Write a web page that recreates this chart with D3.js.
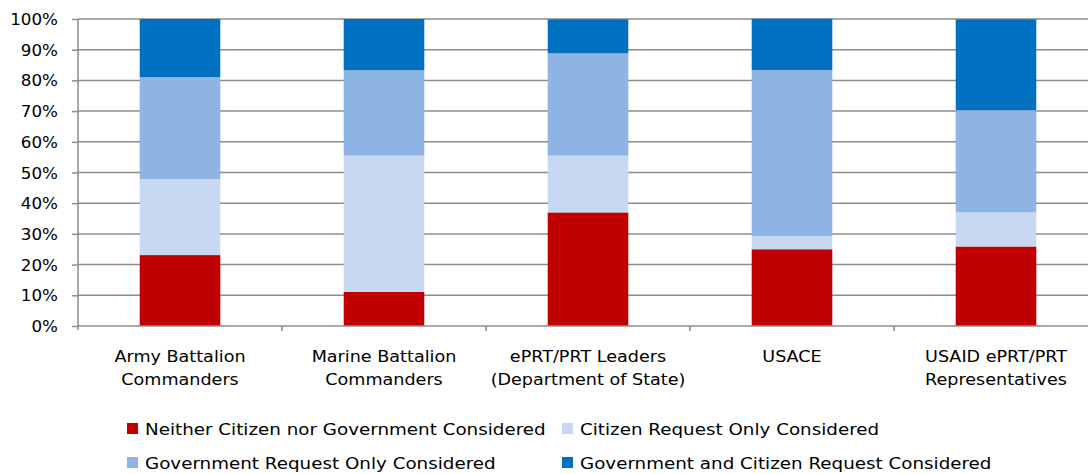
<!DOCTYPE html>
<html><head><meta charset="utf-8">
<script src="https://cdn.jsdelivr.net/npm/d3@7"></script>
<style>body{margin:0;background:#fff;} svg{display:block;} text{font-family:"DejaVu Sans",sans-serif;fill:#000;}</style>
</head><body><svg id="c" width="1088" height="474"></svg>
<script>
const categories = [["Army Battalion","Commanders"],["Marine Battalion","Commanders"],["ePRT/PRT Leaders","(Department of State)"],["USACE"],["USAID ePRT/PRT","Representatives"]];
const seriesNames = ["Neither Citizen nor Government Considered","Citizen Request Only Considered","Government Request Only Considered","Government and Citizen Request Considered"];
const neither = [23.1, 11.1, 37.0, 25.0, 25.9];
const citizenOnly = [24.7, 44.4, 18.5, 4.2, 11.1];
const govOnly = [33.3, 27.8, 33.3, 54.2, 33.3];
const both = [18.9, 16.7, 11.1, 16.7, 29.6];
const yTicks = [0,10,20,30,40,50,60,70,80,90,100];
const colors = ["#C00000","#C6D9F1","#8EB4E3","#0070C0"];

(function(){
const svg = d3.select("#c");
const pL = 78, pR = 1098, pT = 19, pB = 326;
const sx = 1.1, fs = 16;
const x = d3.scaleBand().domain(d3.range(categories.length)).range([pL, pR]).paddingInner(0.605).paddingOuter(0.3025);
const y = d3.scaleLinear().domain([0,100]).range([pB, pT]);

const rows = categories.map((c,i)=>({i, s0:neither[i], s1:citizenOnly[i], s2:govOnly[i], s3:both[i]}));
const stack = d3.stack().keys(["s0","s1","s2","s3"])(rows);

// gridlines
svg.append("g").selectAll("line").data(yTicks.filter(d=>d>0)).join("line")
  .attr("x1", pL).attr("x2", pR).attr("y1", d=>y(d)).attr("y2", d=>y(d))
  .attr("stroke", "#8c8c8c").attr("stroke-width", 1.5);

// bars
svg.append("g").selectAll("g").data(stack).join("g").attr("fill", (d,k)=>colors[k])
  .selectAll("rect").data(d=>d).join("rect")
  .attr("x", d=>x(d.data.i)).attr("width", x.bandwidth())
  .attr("y", d=>y(d[1])).attr("height", d=>y(d[0])-y(d[1]));

// y axis
const yAxis = svg.append("g").attr("transform", `translate(${pL},0)`)
  .call(d3.axisLeft(y).tickValues(yTicks).tickFormat(d=>d+"%").tickSize(6).tickPadding(14));
yAxis.select(".domain").attr("stroke","#8c8c8c").attr("stroke-width",1.5).attr("d", `M0,${pT}V${pB+4}`);
yAxis.selectAll(".tick line").attr("stroke","#8c8c8c").attr("stroke-width",1.5);
yAxis.selectAll(".tick text").attr("font-size", 15.5).attr("font-family","DejaVu Sans").attr("fill","#000")
  .attr("dy","0.36em").attr("x",0).attr("transform",`translate(-20,0) scale(1.08,1)`);

// x axis baseline
svg.append("line").attr("x1", pL).attr("x2", pR).attr("y1", pB).attr("y2", pB)
  .attr("stroke","#8c8c8c").attr("stroke-width",1.5);
// category boundary ticks
const step = x.step();
svg.append("g").selectAll("line").data(d3.range(1, categories.length)).join("line")
  .attr("x1", d=>pL + d*step).attr("x2", d=>pL + d*step)
  .attr("y1", pB).attr("y2", pB+5).attr("stroke","#8c8c8c").attr("stroke-width",1.5);

// category labels
const labG = svg.append("g");
categories.forEach((lines,i)=>{
  const cx = x(i)+x.bandwidth()/2;
  const t = labG.append("text").attr("text-anchor","middle").attr("font-size",fs)
    .attr("transform",`translate(${cx},362) scale(${sx},1)`);
  lines.forEach((ln,j)=>t.append("tspan").attr("x", 0).attr("dy", j===0?0:23).text(ln));
});

// legend
const legPos = [[127,429],[562,429],[127,463],[562,463]];
const leg = svg.append("g").selectAll("g").data(seriesNames).join("g")
  .attr("transform",(d,k)=>`translate(${legPos[k][0]},${legPos[k][1]})`);
leg.append("rect").attr("x",0).attr("y",-6).attr("width",11).attr("height",11).attr("fill",(d,k)=>colors[k]);
leg.append("text").attr("transform",`translate(18,0) scale(1.13,1)`).attr("dy","0.35em").attr("font-size",16.2).text(d=>d);
})();
</script></body></html>
